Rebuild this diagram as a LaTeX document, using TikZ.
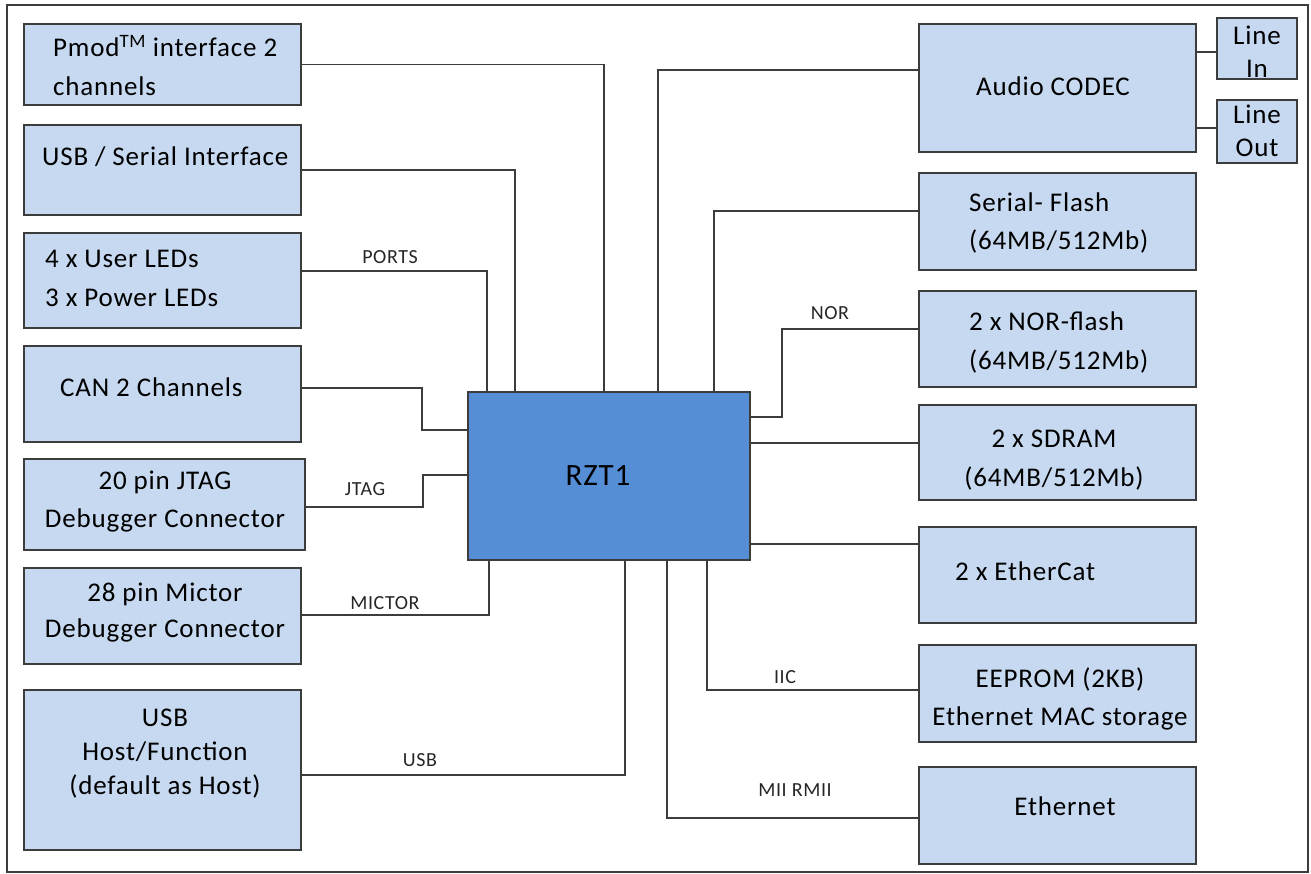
\documentclass[tikz,border=0pt]{standalone}
\usepackage{fontspec}
\setmainfont[LetterSpace=3]{Carlito}
\usetikzlibrary{fit}
\definecolor{boxfill}{RGB}{198,217,240}
\definecolor{cpufill}{RGB}{85,142,213}
\definecolor{edge}{RGB}{60,60,60}
\tikzset{
  blk/.style={draw=edge, line width=1.3pt, fill=boxfill, inner sep=0pt},
  cpu/.style={draw=edge, line width=1.4pt, fill=cpufill, inner sep=0pt},
  wire/.style={draw=edge, line width=1.1pt},
  txt/.style={font=\fontsize{27}{#1}\selectfont, inner sep=0pt, text=black},
  txt/.default=39,
  lbl/.style={font=\fontsize{20}{22}\selectfont, inner sep=0pt, text=black!85},
}
\begin{document}
\begin{tikzpicture}[x=1pt, y=-1pt]
\useasboundingbox (0,0) rectangle (1311,874);
\draw[edge, line width=1.4pt] (7,5) rectangle (1308,872);

% left column boxes
\node[blk, fit={(24,24)(301,105)}] (pmod) {};
\node[blk, fit={(24,125)(301,215)}] (usbser) {};
\node[blk, fit={(24,233)(301,328)}] (leds) {};
\node[blk, fit={(24,346)(301,442)}] (can) {};
\node[blk, fit={(24,459)(305,550)}] (jtag) {};
\node[blk, fit={(24,568)(301,664)}] (mictor) {};
\node[blk, fit={(24,690)(301,850)}] (usbhost) {};

% right column boxes
\node[blk, fit={(919,24)(1196,152)}] (audio) {};
\node[blk, fit={(1217,18)(1297,79)}] (linein) {};
\node[blk, fit={(1217,100)(1297,163)}] (lineout) {};
\node[blk, fit={(919,173)(1196,270)}] (sflash) {};
\node[blk, fit={(919,291)(1196,387)}] (nor) {};
\node[blk, fit={(919,405)(1196,500)}] (sdram) {};
\node[blk, fit={(919,527)(1196,623)}] (ecat) {};
\node[blk, fit={(919,645)(1196,742)}] (eeprom) {};
\node[blk, fit={(919,767)(1196,864)}] (eth) {};

% CPU
\node[cpu, fit={(468,392)(750,560)}] (rzt) {};
\node[font=\fontsize{31}{36}\selectfont, inner sep=0pt] (rztt) at (598,476) {RZT1};

% texts
\node[txt, anchor=west, align=left] (pmodt) at (53,66) {Pmod\textsuperscript{TM} interface 2\\channels};
\node[txt, anchor=west] (usbsert) at (42,157) {USB / Serial Interface};
\node[txt, anchor=west, align=left] (ledst) at (45,278) {4 x User LEDs\\3 x Power LEDs};
\node[txt, anchor=west] (cant) at (60,387) {CAN 2 Channels};
\node[txt=38, align=center] (jtagt) at (165,502) {20 pin JTAG\\Debugger Connector};
\node[txt=36, align=center] (mictort) at (165,613) {28 pin Mictor\\Debugger Connector};
\node[txt=34, align=center] (usbhostt) at (165,754) {USB\\Host/Function\\(default as Host)};

\node[txt] (audiot) at (1053,86) {Audio CODEC};
\node[txt=33, align=center] (lineint) at (1257,52) {Line\\In};
\node[txt=33, align=center] (lineoutt) at (1257,131) {Line\\Out};
\node[txt=38, anchor=west, align=left] (sflasht) at (969,223) {Serial- Flash\\(64MB/512Mb)};
\node[txt, anchor=west, align=left] (nort) at (969,342) {2 x NOR-flash\\(64MB/512Mb)};
\node[txt, align=center] (sdramt) at (1054,460) {2 x SDRAM\\(64MB/512Mb)};
\node[txt, anchor=west] (ecatt) at (955,571) {2 x EtherCat};
\node[txt=38, align=center] (eepromt) at (1060,699) {EEPROM (2KB)\\Ethernet MAC storage};
\node[txt] (etht) at (1065,806) {Ethernet};

% connectors left / top
\draw[wire] (pmod.east) -| (rzt.north -| 604,0);
\draw[wire] (usbser.east) -| (rzt.north -| 515,0);
\draw[wire] (leds.east |- 0,271) -| (rzt.north -| 487,0);
\draw[wire] (can.east |- 0,388) -- (422,388) |- (rzt.west |- 0,430);
\draw[wire] (jtag.east |- 0,507) -- (423,507) |- (rzt.west |- 0,475);
\draw[wire] (mictor.east |- 0,615) -| (rzt.south -| 489,0);
\draw[wire] (usbhost.east |- 0,775) -| (rzt.south -| 625,0);

% connectors right
\draw[wire] (audio.west |- 0,70) -| (rzt.north -| 658,0);
\draw[wire] (sflash.west |- 0,211) -| (rzt.north -| 714,0);
\draw[wire] (rzt.east |- 0,417) -- (782,417) |- (nor.west |- 0,329);
\draw[wire] (rzt.east |- 0,443) -- (sdram.west |- 0,443);
\draw[wire] (rzt.east |- 0,544) -- (ecat.west |- 0,544);
\draw[wire] (rzt.south -| 707,0) |- (eeprom.west |- 0,690);
\draw[wire] (rzt.south -| 667,0) |- (eth.west |- 0,818);
\draw[wire] (audio.east |- 0,52) -- (linein.west |- 0,52);
\draw[wire] (audio.east |- 0,128) -- (lineout.west |- 0,128);

% connector labels
\node[lbl] (lports) at (390,257) {PORTS};
\node[lbl] (ljtag) at (365,489) {JTAG};
\node[lbl] (lmictor) at (385,603) {MICTOR};
\node[lbl] (lusb) at (420,760) {USB};
\node[lbl] (lnor) at (830,313) {NOR};
\node[lbl] (liic) at (785,677) {IIC};
\node[lbl] (lmii) at (795,790) {MII RMII};
\end{tikzpicture}
\end{document}
